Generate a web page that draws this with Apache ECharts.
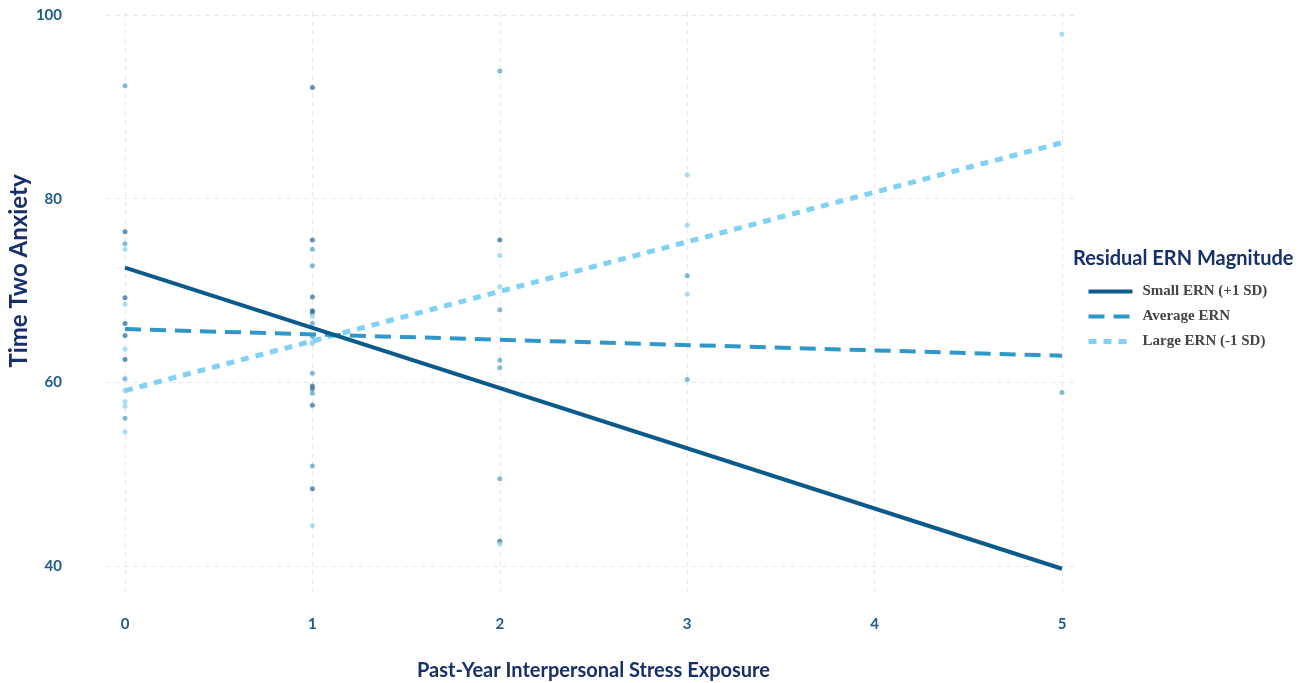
<!DOCTYPE html>
<html>
<head>
<meta charset="utf-8">
<script src="https://cdn.jsdelivr.net/npm/echarts@6/dist/echarts.min.js"></script>
<style>
  html, body { margin: 0; padding: 0; background: #fff; }
  #chart { width: 1304px; height: 683px; }
</style>
</head>
<body>
<div id="chart"></div>
<script>
// 模型预测线的端点 (x = 0 和 x = 5)
var lineX = [0, 5];
var smallErn = [72.5, 39.7];
var averageErn = [65.8, 62.9];
var largeErn = [59.1, 86.1];

// 原始数据点，按颜色深浅分组 [压力暴露, 焦虑]
var darkPoints = [
    [0, 76.4], [0, 69.2], [0, 66.4], [0, 65.1], [0, 62.5],
    [1, 92.1], [1, 75.5], [1, 69.3], [1, 67.8], [1, 67.6], [1, 59.6], [1, 59.3], [1, 57.5], [1, 48.4],
    [2, 75.5], [2, 42.7]
];
var midPoints = [
    [0, 92.3], [0, 75.1], [0, 60.4], [0, 56.1],
    [1, 74.5], [1, 72.7], [1, 66.4], [1, 65.0], [1, 61.0], [1, 58.8], [1, 50.9],
    [2, 93.9], [2, 67.9], [2, 62.4], [2, 61.6], [2, 49.5],
    [3, 71.6], [3, 60.3],
    [5, 58.9]
];
var lightPoints = [
    [0, 74.5], [0, 68.5], [0, 63.6], [0, 59.1], [0, 57.9], [0, 57.4], [0, 54.6],
    [1, 67.2], [1, 64.4], [1, 64.2], [1, 44.4],
    [2, 73.8], [2, 70.4], [2, 42.4],
    [3, 82.6], [3, 77.1], [3, 69.6],
    [5, 97.9]
];

var xTicks = [0, 1, 2, 3, 4, 5];
var yTicks = [40, 60, 80, 100];

var chart = echarts.init(document.getElementById('chart'));

function pairs(ys) {
    return lineX.map(function (x, i) { return [x, ys[i]]; });
}

var gridColor = '#e6e8ee';
var tickColor = '#1d5b88';
var navy = '#17306b';

var option = {
    backgroundColor: '#fff',
    animation: false,
    title: {
        text: 'Residual ERN Magnitude',
        left: 1068,
        top: 244,
        textStyle: { fontFamily: 'Lato', fontWeight: 'bold', fontSize: 20, color: navy }
    },
    legend: {
        orient: 'vertical',
        left: 1081,
        top: 279,
        itemWidth: 44,
        itemHeight: 14,
        itemGap: 10,
        data: ['Small ERN (+1 SD)', 'Average ERN', 'Large ERN (-1 SD)'],
        //只显示线，不显示圆点
        itemStyle: { opacity: 0 },
        lineStyle: { width: 'inherit', type: 'inherit' },
        textStyle: { fontFamily: 'Liberation Serif', fontWeight: 'bold', fontSize: 15, color: '#444', padding: [0, 0, 0, 5] }
    },
    //两个网格：0 放数据和横向网格线，1 放纵向网格线和 x 轴刻度
    grid: [
        { left: 106, right: 229, top: 15, bottom: 117, outerBoundsMode: 'none' },
        { left: 125, right: 242, top: 12, bottom: 91, outerBoundsMode: 'none' }
    ],
    xAxis: [
        {
            gridIndex: 0, type: 'value', min: -0.1014, max: 5.0694,
            show: false
        },
        {
            gridIndex: 1, type: 'value', min: 0, max: 5, interval: 1,
            axisLine: { show: false },
            axisTick: { show: false },
            axisLabel: {
                margin: 25, color: tickColor, fontFamily: 'Lato', fontWeight: 'bold', fontSize: 15,
                formatter: function (v) { return xTicks.indexOf(v) >= 0 ? String(v) : ''; }
            },
            splitLine: { show: true, lineStyle: { color: gridColor, type: [5, 4], width: 1 } },
            name: 'Past-Year Interpersonal Stress Exposure',
            nameLocation: 'middle',
            nameGap: 69,
            nameTextStyle: { fontFamily: 'Lato', fontWeight: 'bold', fontSize: 20, color: navy }
        }
    ],
    yAxis: [
        {
            gridIndex: 0, type: 'value', min: 40, max: 100, interval: 20,
            axisLine: { show: false },
            axisTick: { show: false },
            axisLabel: {
                margin: 44, color: tickColor, fontFamily: 'Lato', fontWeight: 'bold', fontSize: 15,
                formatter: function (v) { return yTicks.indexOf(v) >= 0 ? String(v) : ''; }
            },
            splitLine: { show: true, lineStyle: { color: gridColor, type: [5, 4], width: 1 } }
        },
        {
            gridIndex: 1, type: 'value', min: 0, max: 1, show: false
        }
    ],
    graphic: [{
        type: 'text',
        x: 19,
        y: 271,
        rotation: Math.PI / 2,
        style: {
            text: 'Time Two Anxiety',
            fontFamily: 'Lato', fontWeight: 'bold', fontSize: 24, fill: navy,
            align: 'center', verticalAlign: 'middle'
        }
    }],
    series: [
        {
            type: 'scatter', data: darkPoints, symbolSize: 5, silent: true,
            itemStyle: { color: '#2f6f9c', opacity: 0.75 }
        },
        {
            type: 'scatter', data: midPoints, symbolSize: 5, silent: true,
            itemStyle: { color: '#4f9cc9', opacity: 0.7 }
        },
        {
            type: 'scatter', data: lightPoints, symbolSize: 5, silent: true,
            itemStyle: { color: '#8dd2f0', opacity: 0.75 }
        },
        {
            name: 'Large ERN (-1 SD)', type: 'line', data: pairs(largeErn),
            symbol: 'none', clip: false, z: 3,
            itemStyle: { color: '#7fd2f4' },
            lineStyle: { color: '#7fd2f4', width: 5, type: [8, 7] }
        },
        {
            name: 'Average ERN', type: 'line', data: pairs(averageErn),
            symbol: 'none', clip: false, z: 4,
            itemStyle: { color: '#2f98c9' },
            lineStyle: { color: '#2f98c9', width: 4, type: [16, 9] }
        },
        {
            name: 'Small ERN (+1 SD)', type: 'line', data: pairs(smallErn),
            symbol: 'none', clip: false, z: 5,
            itemStyle: { color: '#0a5a8c' },
            lineStyle: { color: '#0a5a8c', width: 4 }
        }
    ]
};

chart.setOption(option);
</script>
</body>
</html>
